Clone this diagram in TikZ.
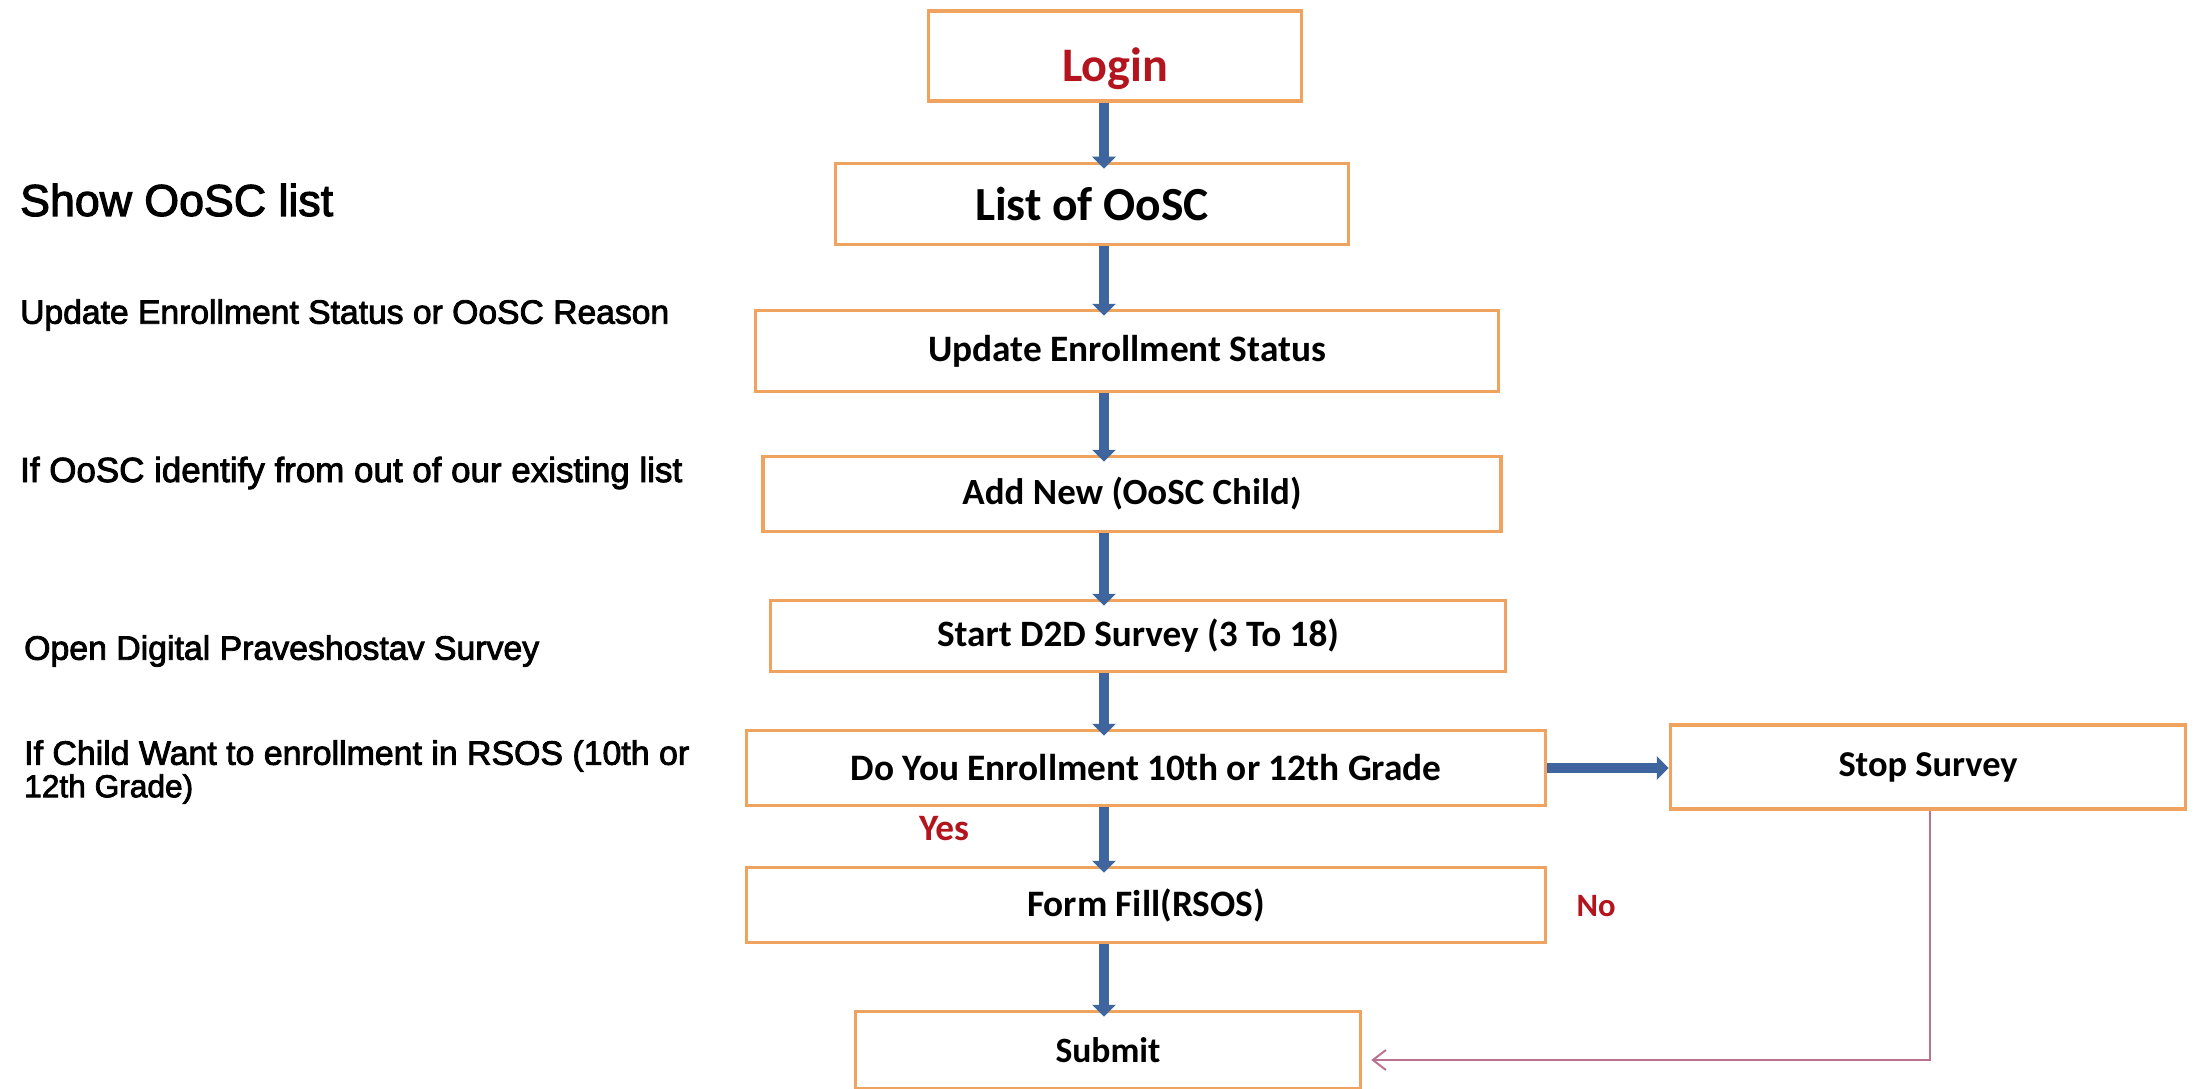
\documentclass[tikz,border=0pt]{standalone}
\usepackage{fontspec}
\setmainfont{Carlito}
\newfontfamily\leftfont[FakeBold=2.5]{Liberation Sans}
\usetikzlibrary{arrows.meta}
\definecolor{boxorange}{RGB}{240,163,95}
\definecolor{flowblue}{RGB}{62,101,158}
\definecolor{labelred}{RGB}{180,20,30}
\definecolor{returnpink}{RGB}{185,115,145}
\newcommand{\fitw}[2]{\resizebox{#1}{!}{#2}}
\begin{document}
\begin{tikzpicture}[x=1pt,y=-1pt,
  flowbox/.style={draw=boxorange, line width=3.5pt, fill=white, inner sep=0pt, font=\bfseries\fontsize{30}{36}\selectfont},
  flowarrow/.style={draw=flowblue, line width=10pt, -{Triangle[width=23pt,length=12pt]}, shorten >=-7pt},
  returnline/.style={draw=returnpink, line width=2pt, -{Straight Barb[length=13pt,width=20pt]}, shorten >=9pt},
  sidetext/.style={anchor=west, inner sep=0pt, font=\leftfont\fontsize{28}{34}\selectfont},
  redlabel/.style={text=labelred, inner sep=0pt, font=\bfseries\fontsize{28}{34}\selectfont}]
\fill[white] (0,0) rectangle (2196,1089);
\useasboundingbox (0,0) rectangle (2196,1089);

% left descriptions
\node[sidetext] (t1) at (20,200) {\fitw{313pt}{Show OoSC list}};
\node[sidetext] (t2) at (20,315) {\fitw{649pt}{Update Enrollment Status or OoSC Reason}};
\node[sidetext] (t3) at (20,473) {\fitw{662pt}{If OoSC identify from out of our existing list}};
\node[sidetext] (t4) at (24,651) {\fitw{515pt}{Open Digital Praveshostav Survey}};
\node[sidetext] (t5) at (24,756) {\fitw{665pt}{If Child Want to enrollment in RSOS (10th or}};
\node[sidetext] (t6) at (24,789) {\fitw{169pt}{12th Grade)}};

% flow boxes
\node[flowbox, minimum width=373pt, minimum height=90pt] (login) at (1115,56) {\raisebox{-13pt}[\height][\depth]{\textcolor{labelred}{\fitw{106pt}{Login}}}};
\node[flowbox, minimum width=513pt, minimum height=81pt] (list) at (1092,204) {\fitw{234pt}{List of OoSC}};
\node[flowbox, minimum width=743pt, minimum height=81pt] (update) at (1127,351) {\fitw{398pt}{Update Enrollment Status}};
\node[flowbox, minimum width=738pt, minimum height=75pt] (addnew) at (1132,494) {\fitw{339pt}{Add New (OoSC Child)}};
\node[flowbox, minimum width=735pt, minimum height=71pt] (survey) at (1138,636) {\fitw{402pt}{Start D2D Survey (3 To 18)}};
\node[flowbox, minimum width=799pt, minimum height=75pt] (doyou) at (1146,768) {\fitw{591pt}{Do You Enrollment 10th or 12th Grade}};
\node[flowbox, minimum width=515pt, minimum height=84pt] (stop) at (1928,767) {\fitw{179pt}{Stop Survey}};
\node[flowbox, minimum width=799pt, minimum height=75pt] (form) at (1146,905) {\fitw{238pt}{Form Fill(RSOS)}};
\node[flowbox, minimum width=505pt, minimum height=77pt] (submit) at (1108,1050) {\fitw{105pt}{Submit}};

% labels
\node[redlabel] (yes) at (944,829) {\fitw{50pt}{Yes}};
\node[redlabel] (no) at (1596,906) {\fitw{39pt}{No}};

% connectors
\coordinate (spine) at (1104,0);
\coordinate (retcorner) at (1930,1060);
\draw[flowarrow] (login.south -| spine) -- (list.north -| spine);
\draw[flowarrow] (list.south -| spine) -- (update.north -| spine);
\draw[flowarrow] (update.south -| spine) -- (addnew.north -| spine);
\draw[flowarrow] (addnew.south -| spine) -- (survey.north -| spine);
\draw[flowarrow] (survey.south -| spine) -- (doyou.north -| spine);
\draw[flowarrow] (doyou.south -| spine) -- (form.north -| spine);
\draw[flowarrow] (form.south -| spine) -- (submit.north -| spine);
\draw[flowarrow, shorten >=0pt] (doyou.east) -- (stop.west |- doyou.east);
\draw[returnline] (stop.south -| retcorner) -- (retcorner) -- (submit.east |- retcorner);
\end{tikzpicture}
\end{document}
